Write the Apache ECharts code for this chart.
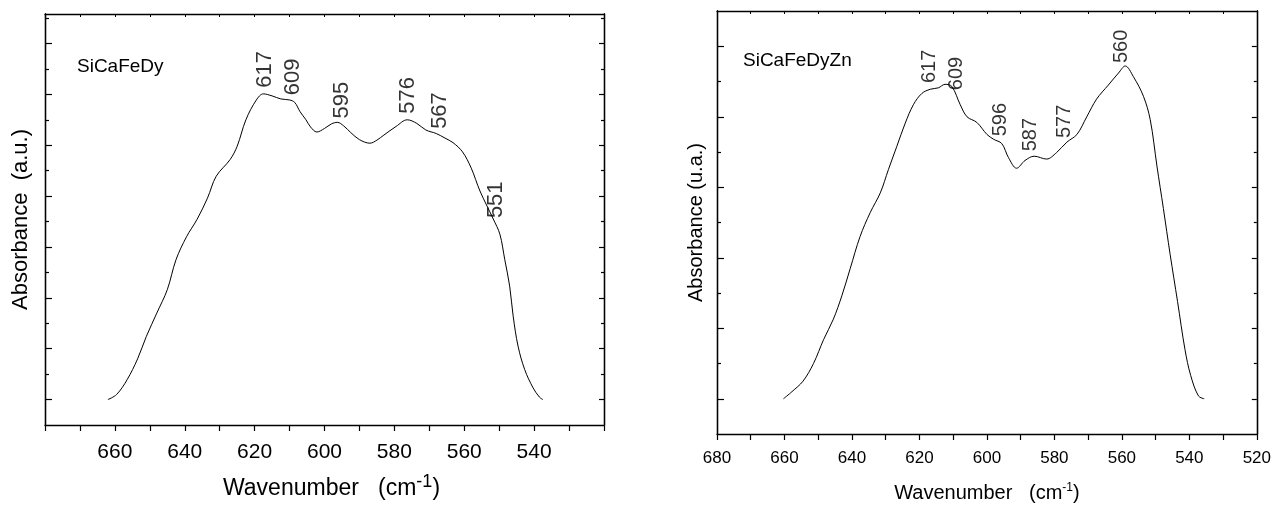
<!DOCTYPE html>
<html lang="en">
<head>
<meta charset="UTF-8">
<title>FTIR absorbance</title>
<script src="https://cdn.jsdelivr.net/npm/echarts@6.0.0/dist/echarts.min.js"></script>
<style>
    html, body { margin: 0; padding: 0; background: #fff; }
    #main { width: 1274px; height: 508px; }
</style>
</head>
<body>
<div id="main"></div>
<script>
    // SiCaFeDy spectrum (wavenumber cm-1, absorbance a.u.)
    var leftWave = [662, 659.5, 656.5, 653.5, 651, 648, 645, 642.5, 639.5, 636.5,
        633.5, 631, 627, 625, 622.5, 619.5, 617.5, 615, 612.5, 610,
        608.5, 607, 605.3, 604, 602.2, 600, 598, 596.3, 594.5, 592.5,
        590, 587, 585, 583, 579.5, 576.3, 573.6, 571, 568, 565.5,
        563.2, 560.5, 558, 555.5, 551.7, 549.8, 548.4, 547, 546, 544.6,
        542.7, 540.3, 538.5, 537.5];
    var leftAbs = [0, 0.1, 0.39, 0.8, 1.24, 1.7, 2.16, 2.75, 3.2, 3.54,
        3.96, 4.39, 4.72, 4.98, 5.5, 5.89, 6.01, 5.97, 5.91, 5.89,
        5.84, 5.66, 5.5, 5.36, 5.26, 5.33, 5.42, 5.45, 5.38, 5.25,
        5.11, 5.04, 5.1, 5.2, 5.37, 5.5, 5.43, 5.3, 5.23, 5.14,
        5.05, 4.87, 4.55, 4.1, 3.55, 3.25, 2.75, 2.23, 1.64, 1.05,
        0.59, 0.23, 0.05, 0];
    var leftPeaks = [617, 609, 595, 576, 567, 551];

    // SiCaFeDyZn spectrum
    var rightWave = [660.3, 657.8, 654.5, 651.4, 648.4, 645.5, 643, 640.5, 637.6, 634.6,
        631.6, 629.2, 626.7, 624.2, 621.8, 619.3, 616.8, 614.4, 612.4, 610.4,
        607.9, 605.9, 603, 600, 598, 595.6, 593.6, 591.2, 588.7, 586,
        582.3, 579.4, 576.3, 573.3, 570.4, 567.5, 564, 561, 559, 556.6,
        553.6, 551.6, 549.6, 547.7, 545.7, 543.5, 541.3, 539.6, 537.3, 535.6];
    var rightAbs = [0, 0.1, 0.25, 0.5, 0.84, 1.13, 1.46, 1.85, 2.3, 2.64,
        2.92, 3.25, 3.58, 3.91, 4.17, 4.33, 4.39, 4.41, 4.46, 4.43,
        4.17, 4.0, 3.92, 3.75, 3.68, 3.62, 3.42, 3.27, 3.38, 3.44,
        3.4, 3.49, 3.64, 3.75, 4.0, 4.25, 4.45, 4.62, 4.72, 4.57,
        4.29, 3.96, 3.3, 2.7, 2.05, 1.38, 0.7, 0.33, 0.04, 0];
    var rightPeaks = [617, 609, 596, 587, 577, 560];

    var leftMajor = [0, 1, 2, 3, 4, 5, 6, 7];
    var leftMinor = [0.5, 1.5, 2.5, 3.5, 4.5, 5.5, 6.5, 7.5];
    var rightMajor = [0, 1, 2, 3, 4, 5];
    var rightMinor = [0.5, 1.5, 2.5, 3.5, 4.5];

    var FONT = 'Liberation Sans, Arial, sans-serif';

    // absorbance at a wavenumber, linear between traced points (waves descending)
    function absAt(waves, abs, w) {
        for (var i = 0; i < waves.length - 1; i++) {
            if (w <= waves[i] && w >= waves[i + 1]) {
                var t = (waves[i] - w) / (waves[i] - waves[i + 1]);
                return abs[i] + t * (abs[i + 1] - abs[i]);
            }
        }
        return 0;
    }

    function pairs(waves, abs) {
        var out = [];
        for (var i = 0; i < waves.length; i++) out.push([waves[i], abs[i]]);
        return out;
    }

    function peakData(peaks, waves, abs) {
        return peaks.map(function (p) {
            return {name: String(p), value: [p, absAt(waves, abs, p)]};
        });
    }

    function xAxes(grid, fontSize, margin, showEnds) {
        return [{
            type: 'value', gridIndex: grid, min: 520, max: 680, interval: 20, inverse: true,
            position: 'bottom',
            axisLine: {onZero: false, lineStyle: {color: '#000', width: 1.3}},
            axisTick: {inside: false, length: 6, lineStyle: {color: '#000', width: 1.2}},
            minorTick: {show: true, splitNumber: 2, length: 6, lineStyle: {color: '#000', width: 1.2}},
            axisLabel: {color: '#000', fontFamily: FONT, fontSize: fontSize, margin: margin,
                showMinLabel: showEnds, showMaxLabel: showEnds},
            splitLine: {show: false}
        }, {
            type: 'value', gridIndex: grid, min: 520, max: 680, interval: 10, inverse: true,
            position: 'top',
            axisLine: {onZero: false, lineStyle: {color: '#000', width: 1.3}},
            axisTick: {inside: true, length: 3, lineStyle: {color: '#000'}},
            axisLabel: {show: false},
            splitLine: {show: false}
        }];
    }

    function yAxes(grid, max, major, minor) {
        var base = {
            type: 'value', gridIndex: grid, min: -0.5, max: max,
            axisLine: {show: true, onZero: false, lineStyle: {color: '#000', width: 1.3}},
            axisLabel: {show: false},
            splitLine: {show: false}
        };
        function mk(pos, values, len) {
            return Object.assign({}, base, {
                position: pos,
                axisTick: {inside: true, length: len, customValues: values, lineStyle: {color: '#000', width: 1.2}}
            });
        }
        return [mk('left', major, 7), mk('left', minor, 4), mk('right', major, 5), mk('right', minor, 3)];
    }

    var myChart = echarts.init(document.getElementById('main'), null, {renderer: 'canvas'});

    var xs = xAxes(0, 21, 17, false).concat(xAxes(1, 17, 16, true));
    var ys = yAxes(0, 7.58, leftMajor, leftMinor).concat(yAxes(1, 5.5, rightMajor, rightMinor));

    // axis titles go on the first axis of each pair
    xs[0].name = '{a|Wavenumber   (cm}{s|-1}{a|)}';
    xs[0].nameLocation = 'middle';
    xs[0].nameGap = 48;
    xs[0].nameTextStyle = {padding: [0, 0, 0, 14], rich: {
        a: {fontFamily: FONT, fontSize: 23, color: '#000'},
        s: {fontFamily: FONT, fontSize: 18, color: '#000', verticalAlign: 'top', padding: [0, 0, 14, 0]}
    }};
    xs[2].name = '{a|Wavenumber   (cm}{s|-1}{a|)}';
    xs[2].nameLocation = 'middle';
    xs[2].nameGap = 48;
    xs[2].nameTextStyle = {rich: {
        a: {fontFamily: FONT, fontSize: 20, color: '#000'},
        s: {fontFamily: FONT, fontSize: 12, color: '#000', verticalAlign: 'top', padding: [0, 0, 10, 0]}
    }};
    ys[0].name = 'Absorbance  (a.u.)';
    ys[0].nameLocation = 'middle';
    ys[0].nameGap = 13;
    ys[0].nameTextStyle = {fontFamily: FONT, fontSize: 22, color: '#000'};
    ys[4].name = 'Absorbance (u.a.)';
    ys[4].nameLocation = 'middle';
    ys[4].nameGap = 11;
    ys[4].nameTextStyle = {fontFamily: FONT, fontSize: 20, color: '#000'};

    function peakLabel(size) {
        return {
            show: true, formatter: '{b}', position: 'top', distance: 6,
            rotate: 90, align: 'left', verticalAlign: 'middle',
            fontFamily: FONT, fontSize: size, color: '#000'
        };
    }

    var option = {
        animation: false,
        backgroundColor: '#fff',
        title: [
            {text: 'SiCaFeDy', left: 72, top: 52,
                textStyle: {fontFamily: FONT, fontSize: 19, fontWeight: 'normal', color: '#000'}},
            {text: 'SiCaFeDyZn', left: 738, top: 46,
                textStyle: {fontFamily: FONT, fontSize: 19, fontWeight: 'normal', color: '#000'}}
        ],
        grid: [
            {left: 45, top: 14, width: 559, height: 411},
            {left: 717, top: 11, width: 540, height: 424}
        ],
        xAxis: xs,
        yAxis: ys,
        series: [
            {
                type: 'line', xAxisIndex: 0, yAxisIndex: 0, data: pairs(leftWave, leftAbs),
                smooth: 0.35, showSymbol: false, lineStyle: {color: '#000', width: 1}
            },
            {
                type: 'scatter', xAxisIndex: 0, yAxisIndex: 0, data: peakData(leftPeaks, leftWave, leftAbs),
                symbolSize: 1, itemStyle: {color: 'rgba(0,0,0,0)'}, label: peakLabel(22), silent: true
            },
            {
                type: 'line', xAxisIndex: 2, yAxisIndex: 4, data: pairs(rightWave, rightAbs),
                smooth: 0.35, showSymbol: false, lineStyle: {color: '#000', width: 1}
            },
            {
                type: 'scatter', xAxisIndex: 2, yAxisIndex: 4, data: peakData(rightPeaks, rightWave, rightAbs),
                symbolSize: 1, itemStyle: {color: 'rgba(0,0,0,0)'}, label: peakLabel(20), silent: true
            }
        ]
    };

    myChart.setOption(option);
</script>
</body>
</html>
